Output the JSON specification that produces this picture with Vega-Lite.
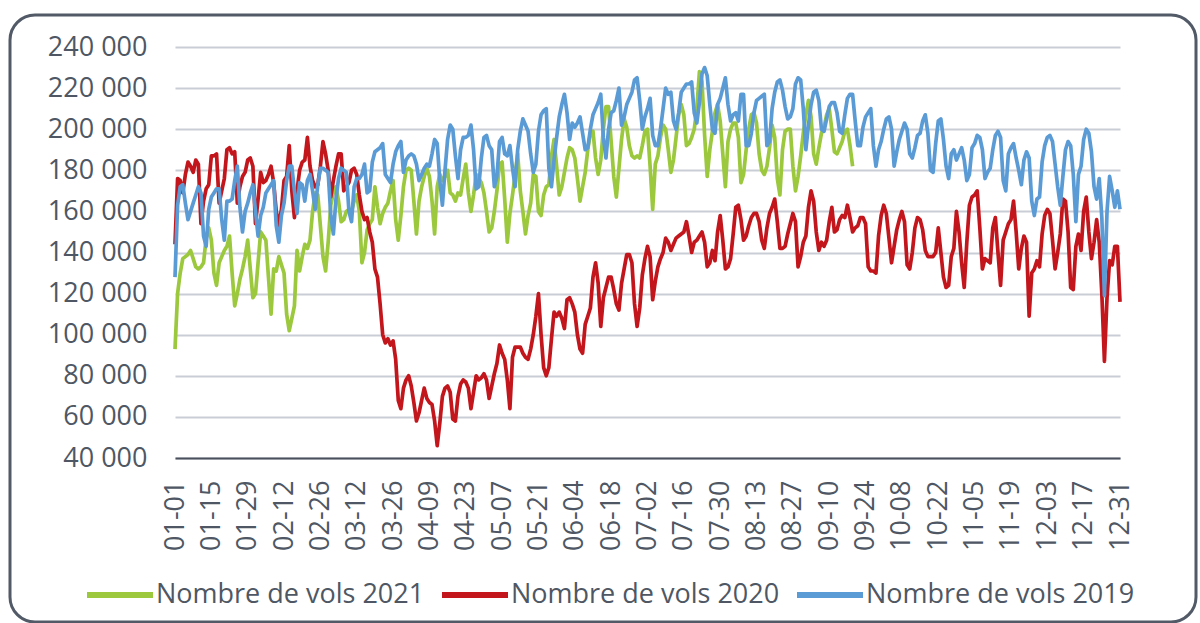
{
"$schema": "https://vega.github.io/schema/vega-lite/v6.json",
"width": 1186, "height": 607,
"autosize": {"type": "none"},
"padding": {"left": 10, "top": 15, "right": 4, "bottom": 1},
"background": "white",
"config": {"view": {"stroke": "#515a66", "strokeWidth": 3, "cornerRadius": 25}, "font": "Open Sans"},
"data": {"values": [
{"d":1,"a":93000,"b":144000,"c":128000},{"d":2,"a":120000,"b":176000,"c":163000},{"d":3,"a":130000,"b":175000,"c":172000},{"d":4,"a":137000,"b":169000,"c":173000},{"d":5,"a":138000,"b":178000,"c":164000},{"d":6,"a":139000,"b":184000,"c":156000},{"d":7,"a":141000,"b":182000,"c":160000},{"d":8,"a":137000,"b":179000,"c":164000},{"d":9,"a":133000,"b":185000,"c":168000},{"d":10,"a":132000,"b":183000,"c":172000},
{"d":11,"a":133000,"b":154000,"c":169000},{"d":12,"a":135000,"b":165000,"c":148000},{"d":13,"a":147000,"b":171000,"c":143000},{"d":14,"a":152000,"b":173000,"c":161000},{"d":15,"a":146000,"b":187000,"c":167000},{"d":16,"a":130000,"b":187000,"c":169000},{"d":17,"a":124000,"b":188000,"c":171000},{"d":18,"a":135000,"b":164000,"c":171000},{"d":19,"a":138000,"b":170000,"c":156000},{"d":20,"a":141000,"b":176000,"c":146000},
{"d":21,"a":143000,"b":190000,"c":165000},{"d":22,"a":148000,"b":191000,"c":165000},{"d":23,"a":130000,"b":188000,"c":166000},{"d":24,"a":114000,"b":189000,"c":175000},{"d":25,"a":120000,"b":164000,"c":182000},{"d":26,"a":127000,"b":172000,"c":162000},{"d":27,"a":132000,"b":177000,"c":150000},{"d":28,"a":138000,"b":179000,"c":160000},{"d":29,"a":146000,"b":185000,"c":164000},{"d":30,"a":132000,"b":186000,"c":169000},
{"d":31,"a":118000,"b":182000,"c":173000},{"d":32,"a":120000,"b":154000,"c":160000},{"d":33,"a":135000,"b":166000,"c":148000},{"d":34,"a":150000,"b":179000,"c":158000},{"d":35,"a":148000,"b":174000,"c":162000},{"d":36,"a":146000,"b":175000,"c":169000},{"d":37,"a":128000,"b":178000,"c":171000},{"d":38,"a":110000,"b":182000,"c":173000},{"d":39,"a":132000,"b":174000,"c":175000},{"d":40,"a":131000,"b":160000,"c":153000},
{"d":41,"a":138000,"b":153000,"c":145000},{"d":42,"a":134000,"b":161000,"c":158000},{"d":43,"a":130000,"b":175000,"c":164000},{"d":44,"a":110000,"b":177000,"c":175000},{"d":45,"a":102000,"b":192000,"c":182000},{"d":46,"a":108000,"b":170000,"c":182000},{"d":47,"a":114000,"b":157000,"c":170000},{"d":48,"a":141000,"b":170000,"c":159000},{"d":49,"a":131000,"b":180000,"c":174000},{"d":50,"a":138000,"b":184000,"c":173000},
{"d":51,"a":144000,"b":185000,"c":165000},{"d":52,"a":142000,"b":196000,"c":175000},{"d":53,"a":146000,"b":182000,"c":178000},{"d":54,"a":160000,"b":175000,"c":170000},{"d":55,"a":169000,"b":172000,"c":161000},{"d":56,"a":168000,"b":173000,"c":173000},{"d":57,"a":153000,"b":182000,"c":181000},{"d":58,"a":138000,"b":194000,"c":181000},{"d":59,"a":131000,"b":188000,"c":180000},{"d":60,"a":145000,"b":180000,"c":179000},
{"d":61,"a":163000,"b":167000,"c":158000},{"d":62,"a":169000,"b":175000,"c":149000},{"d":63,"a":172000,"b":182000,"c":166000},{"d":64,"a":165000,"b":188000,"c":176000},{"d":65,"a":155000,"b":188000,"c":181000},{"d":66,"a":156000,"b":170000,"c":180000},{"d":67,"a":160000,"b":172000,"c":179000},{"d":68,"a":161000,"b":174000,"c":160000},{"d":69,"a":160000,"b":180000,"c":155000},{"d":70,"a":165000,"b":181000,"c":172000},
{"d":71,"a":168000,"b":178000,"c":176000},{"d":72,"a":160000,"b":168000,"c":176000},{"d":73,"a":135000,"b":160000,"c":178000},{"d":74,"a":140000,"b":156000,"c":183000},{"d":75,"a":151000,"b":157000,"c":169000},{"d":76,"a":154000,"b":150000,"c":170000},{"d":77,"a":156000,"b":145000,"c":184000},{"d":78,"a":172000,"b":132000,"c":189000},{"d":79,"a":162000,"b":128000,"c":190000},{"d":80,"a":154000,"b":115000,"c":191000},
{"d":81,"a":159000,"b":100000,"c":193000},{"d":82,"a":162000,"b":96000,"c":178000},{"d":83,"a":164000,"b":98000,"c":176000},{"d":84,"a":170000,"b":95000,"c":174000},{"d":85,"a":175000,"b":97000,"c":183000},{"d":86,"a":156000,"b":88000,"c":189000},{"d":87,"a":146000,"b":68000,"c":192000},{"d":88,"a":158000,"b":64000,"c":194000},{"d":89,"a":172000,"b":74000,"c":179000},{"d":90,"a":180000,"b":78000,"c":185000},
{"d":91,"a":181000,"b":80000,"c":187000},{"d":92,"a":180000,"b":75000,"c":188000},{"d":93,"a":165000,"b":67000,"c":187000},{"d":94,"a":149000,"b":58000,"c":183000},{"d":95,"a":165000,"b":62000,"c":175000},{"d":96,"a":172000,"b":68000,"c":178000},{"d":97,"a":177000,"b":74000,"c":181000},{"d":98,"a":181000,"b":69000,"c":183000},{"d":99,"a":177000,"b":67000,"c":182000},{"d":100,"a":165000,"b":66000,"c":188000},
{"d":101,"a":149000,"b":58000,"c":195000},{"d":102,"a":172000,"b":46000,"c":193000},{"d":103,"a":178000,"b":57000,"c":175000},{"d":104,"a":175000,"b":70000,"c":163000},{"d":105,"a":177000,"b":74000,"c":180000},{"d":106,"a":180000,"b":75000,"c":195000},{"d":107,"a":169000,"b":72000,"c":202000},{"d":108,"a":168000,"b":59000,"c":200000},{"d":109,"a":165000,"b":58000,"c":187000},{"d":110,"a":169000,"b":70000,"c":176000},
{"d":111,"a":168000,"b":76000,"c":190000},{"d":112,"a":176000,"b":78000,"c":196000},{"d":113,"a":183000,"b":77000,"c":196000},{"d":114,"a":169000,"b":74000,"c":197000},{"d":115,"a":160000,"b":64000,"c":202000},{"d":116,"a":168000,"b":72000,"c":190000},{"d":117,"a":178000,"b":80000,"c":171000},{"d":118,"a":176000,"b":78000,"c":172000},{"d":119,"a":174000,"b":79000,"c":186000},{"d":120,"a":169000,"b":81000,"c":196000},
{"d":121,"a":160000,"b":78000,"c":197000},{"d":122,"a":150000,"b":69000,"c":192000},{"d":123,"a":152000,"b":75000,"c":190000},{"d":124,"a":160000,"b":81000,"c":172000},{"d":125,"a":170000,"b":86000,"c":177000},{"d":126,"a":183000,"b":95000,"c":194000},{"d":127,"a":184000,"b":91000,"c":196000},{"d":128,"a":166000,"b":88000,"c":188000},{"d":129,"a":145000,"b":78000,"c":187000},{"d":130,"a":159000,"b":64000,"c":192000},
{"d":131,"a":168000,"b":89000,"c":181000},{"d":132,"a":178000,"b":94000,"c":172000},{"d":133,"a":188000,"b":94000,"c":190000},{"d":134,"a":170000,"b":94000,"c":199000},{"d":135,"a":160000,"b":91000,"c":205000},{"d":136,"a":149000,"b":89000,"c":202000},{"d":137,"a":158000,"b":88000,"c":199000},{"d":138,"a":164000,"b":93000,"c":188000},{"d":139,"a":178000,"b":100000,"c":179000},{"d":140,"a":177000,"b":109000,"c":183000},
{"d":141,"a":160000,"b":120000,"c":199000},{"d":142,"a":158000,"b":100000,"c":207000},{"d":143,"a":168000,"b":84000,"c":209000},{"d":144,"a":172000,"b":80000,"c":210000},{"d":145,"a":173000,"b":84000,"c":181000},{"d":146,"a":187000,"b":98000,"c":172000},{"d":147,"a":195000,"b":111000,"c":185000},{"d":148,"a":182000,"b":109000,"c":196000},{"d":149,"a":168000,"b":111000,"c":206000},{"d":150,"a":172000,"b":108000,"c":212000},
{"d":151,"a":179000,"b":103000,"c":217000},{"d":152,"a":186000,"b":117000,"c":208000},{"d":153,"a":191000,"b":118000,"c":195000},{"d":154,"a":190000,"b":115000,"c":203000},{"d":155,"a":186000,"b":111000,"c":201000},{"d":156,"a":176000,"b":100000,"c":203000},{"d":157,"a":165000,"b":93000,"c":206000},{"d":158,"a":172000,"b":91000,"c":198000},{"d":159,"a":179000,"b":105000,"c":190000},{"d":160,"a":190000,"b":109000,"c":191000},
{"d":161,"a":198000,"b":113000,"c":200000},{"d":162,"a":199000,"b":128000,"c":207000},{"d":163,"a":186000,"b":135000,"c":210000},{"d":164,"a":178000,"b":125000,"c":213000},{"d":165,"a":185000,"b":104000,"c":217000},{"d":166,"a":200000,"b":118000,"c":196000},{"d":167,"a":211000,"b":123000,"c":186000},{"d":168,"a":211000,"b":128000,"c":200000},{"d":169,"a":194000,"b":128000,"c":208000},{"d":170,"a":177000,"b":122000,"c":209000},
{"d":171,"a":167000,"b":115000,"c":214000},{"d":172,"a":181000,"b":112000,"c":220000},{"d":173,"a":195000,"b":125000,"c":202000},{"d":174,"a":205000,"b":132000,"c":206000},{"d":175,"a":201000,"b":139000,"c":212000},{"d":176,"a":192000,"b":139000,"c":215000},{"d":177,"a":187000,"b":135000,"c":218000},{"d":178,"a":186000,"b":115000,"c":224000},{"d":179,"a":187000,"b":104000,"c":225000},{"d":180,"a":186000,"b":113000,"c":214000},
{"d":181,"a":192000,"b":129000,"c":200000},{"d":182,"a":199000,"b":137000,"c":206000},{"d":183,"a":200000,"b":143000,"c":210000},{"d":184,"a":182000,"b":138000,"c":215000},{"d":185,"a":161000,"b":117000,"c":197000},{"d":186,"a":183000,"b":126000,"c":192000},{"d":187,"a":187000,"b":133000,"c":192000},{"d":188,"a":196000,"b":137000,"c":200000},{"d":189,"a":202000,"b":140000,"c":210000},{"d":190,"a":200000,"b":147000,"c":220000},
{"d":191,"a":190000,"b":145000,"c":217000},{"d":192,"a":179000,"b":141000,"c":218000},{"d":193,"a":185000,"b":144000,"c":204000},{"d":194,"a":196000,"b":147000,"c":200000},{"d":195,"a":207000,"b":148000,"c":208000},{"d":196,"a":212000,"b":149000,"c":218000},{"d":197,"a":207000,"b":150000,"c":220000},{"d":198,"a":192000,"b":155000,"c":222000},{"d":199,"a":193000,"b":148000,"c":222000},{"d":200,"a":196000,"b":140000,"c":223000},
{"d":201,"a":200000,"b":145000,"c":208000},{"d":202,"a":210000,"b":146000,"c":203000},{"d":203,"a":228000,"b":148000,"c":213000},{"d":204,"a":223000,"b":150000,"c":227000},{"d":205,"a":197000,"b":145000,"c":230000},{"d":206,"a":177000,"b":133000,"c":226000},{"d":207,"a":190000,"b":135000,"c":212000},{"d":208,"a":199000,"b":141000,"c":200000},{"d":209,"a":208000,"b":136000,"c":198000},{"d":210,"a":212000,"b":150000,"c":212000},
{"d":211,"a":204000,"b":158000,"c":215000},{"d":212,"a":188000,"b":146000,"c":220000},{"d":213,"a":172000,"b":132000,"c":225000},{"d":214,"a":194000,"b":133000,"c":212000},{"d":215,"a":200000,"b":137000,"c":204000},{"d":216,"a":203000,"b":149000,"c":207000},{"d":217,"a":203000,"b":162000,"c":208000},{"d":218,"a":196000,"b":163000,"c":204000},{"d":219,"a":174000,"b":156000,"c":217000},{"d":220,"a":178000,"b":146000,"c":217000},
{"d":221,"a":190000,"b":148000,"c":192000},{"d":222,"a":200000,"b":153000,"c":192000},{"d":223,"a":207000,"b":157000,"c":198000},{"d":224,"a":208000,"b":159000,"c":208000},{"d":225,"a":203000,"b":159000,"c":214000},{"d":226,"a":188000,"b":155000,"c":215000},{"d":227,"a":180000,"b":146000,"c":216000},{"d":228,"a":178000,"b":142000,"c":217000},{"d":229,"a":182000,"b":152000,"c":192000},{"d":230,"a":191000,"b":159000,"c":194000},
{"d":231,"a":202000,"b":162000,"c":210000},{"d":232,"a":196000,"b":166000,"c":218000},{"d":233,"a":176000,"b":155000,"c":223000},{"d":234,"a":168000,"b":142000,"c":224000},{"d":235,"a":190000,"b":142000,"c":219000},{"d":236,"a":199000,"b":143000,"c":211000},{"d":237,"a":200000,"b":149000,"c":205000},{"d":238,"a":200000,"b":154000,"c":206000},{"d":239,"a":182000,"b":159000,"c":210000},{"d":240,"a":170000,"b":155000,"c":222000},
{"d":241,"a":177000,"b":133000,"c":225000},{"d":242,"a":187000,"b":138000,"c":224000},{"d":243,"a":198000,"b":145000,"c":210000},{"d":244,"a":207000,"b":148000,"c":190000},{"d":245,"a":214000,"b":162000,"c":202000},{"d":246,"a":206000,"b":170000,"c":212000},{"d":247,"a":188000,"b":165000,"c":218000},{"d":248,"a":183000,"b":150000,"c":219000},{"d":249,"a":191000,"b":141000,"c":214000},{"d":250,"a":198000,"b":145000,"c":200000},
{"d":251,"a":201000,"b":143000,"c":199000},{"d":252,"a":207000,"b":146000,"c":205000},{"d":253,"a":210000,"b":155000,"c":211000},{"d":254,"a":200000,"b":162000,"c":213000},{"d":255,"a":189000,"b":150000,"c":213000},{"d":256,"a":188000,"b":151000,"c":208000},{"d":257,"a":191000,"b":156000,"c":199000},{"d":258,"a":194000,"b":158000,"c":198000},{"d":259,"a":199000,"b":157000,"c":207000},{"d":260,"a":200000,"b":163000,"c":215000},
{"d":261,"a":192000,"b":157000,"c":217000},{"d":262,"a":182000,"b":150000,"c":217000},{"d":263,"b":152000,"c":204000},{"d":264,"b":153000,"c":192000},{"d":265,"b":157000,"c":192000},{"d":266,"b":157000,"c":201000},{"d":267,"b":154000,"c":206000},{"d":268,"b":133000,"c":208000},{"d":269,"b":131000,"c":210000},{"d":270,"b":131000,"c":192000},
{"d":271,"b":130000,"c":182000},{"d":272,"b":148000,"c":190000},{"d":273,"b":158000,"c":194000},{"d":274,"b":163000,"c":200000},{"d":275,"b":159000,"c":205000},{"d":276,"b":147000,"c":206000},{"d":277,"b":135000,"c":200000},{"d":278,"b":143000,"c":182000},{"d":279,"b":151000,"c":189000},{"d":280,"b":156000,"c":195000},
{"d":281,"b":160000,"c":199000},{"d":282,"b":155000,"c":203000},{"d":283,"b":134000,"c":200000},{"d":284,"b":132000,"c":188000},{"d":285,"b":140000,"c":186000},{"d":286,"b":152000,"c":191000},{"d":287,"b":157000,"c":197000},{"d":288,"b":156000,"c":198000},{"d":289,"b":151000,"c":204000},{"d":290,"b":141000,"c":207000},
{"d":291,"b":138000,"c":198000},{"d":292,"b":138000,"c":180000},{"d":293,"b":138000,"c":179000},{"d":294,"b":140000,"c":193000},{"d":295,"b":152000,"c":204000},{"d":296,"b":140000,"c":205000},{"d":297,"b":128000,"c":195000},{"d":298,"b":123000,"c":182000},{"d":299,"b":124000,"c":176000},{"d":300,"b":138000,"c":188000},
{"d":301,"b":142000,"c":190000},{"d":302,"b":160000,"c":185000},{"d":303,"b":150000,"c":188000},{"d":304,"b":135000,"c":191000},{"d":305,"b":123000,"c":185000},{"d":306,"b":145000,"c":175000},{"d":307,"b":163000,"c":178000},{"d":308,"b":167000,"c":191000},{"d":309,"b":168000,"c":193000},{"d":310,"b":170000,"c":197000},
{"d":311,"b":152000,"c":196000},{"d":312,"b":132000,"c":190000},{"d":313,"b":137000,"c":176000},{"d":314,"b":136000,"c":179000},{"d":315,"b":135000,"c":181000},{"d":316,"b":152000,"c":190000},{"d":317,"b":157000,"c":197000},{"d":318,"b":140000,"c":199000},{"d":319,"b":124000,"c":196000},{"d":320,"b":146000,"c":175000},
{"d":321,"b":150000,"c":170000},{"d":322,"b":154000,"c":188000},{"d":323,"b":156000,"c":191000},{"d":324,"b":165000,"c":193000},{"d":325,"b":150000,"c":186000},{"d":326,"b":132000,"c":180000},{"d":327,"b":142000,"c":173000},{"d":328,"b":148000,"c":185000},{"d":329,"b":145000,"c":189000},{"d":330,"b":109000,"c":186000},
{"d":331,"b":130000,"c":165000},{"d":332,"b":132000,"c":158000},{"d":333,"b":136000,"c":166000},{"d":334,"b":133000,"c":167000},{"d":335,"b":149000,"c":184000},{"d":336,"b":158000,"c":192000},{"d":337,"b":161000,"c":196000},{"d":338,"b":159000,"c":197000},{"d":339,"b":146000,"c":194000},{"d":340,"b":132000,"c":183000},
{"d":341,"b":140000,"c":172000},{"d":342,"b":149000,"c":163000},{"d":343,"b":166000,"c":177000},{"d":344,"b":165000,"c":190000},{"d":345,"b":150000,"c":194000},{"d":346,"b":123000,"c":192000},{"d":347,"b":122000,"c":178000},{"d":348,"b":143000,"c":155000},{"d":349,"b":149000,"c":178000},{"d":350,"b":141000,"c":182000},
{"d":351,"b":160000,"c":195000},{"d":352,"b":167000,"c":200000},{"d":353,"b":150000,"c":198000},{"d":354,"b":137000,"c":189000},{"d":355,"b":145000,"c":172000},{"d":356,"b":156000,"c":166000},{"d":357,"b":145000,"c":176000},{"d":358,"b":120000,"c":157000},{"d":359,"b":87000,"c":119000},{"d":360,"b":118000,"c":160000},
{"d":361,"b":136000,"c":177000},{"d":362,"b":134000,"c":170000},{"d":363,"b":143000,"c":162000},{"d":364,"b":143000,"c":170000},{"d":365,"b":116000,"c":161000}
]},
"transform": [
{"fold": ["a", "b", "c"], "as": ["serie", "v"]},
{"filter": "isValid(datum.v)"}
],
"mark": {"type": "line", "strokeWidth": 3.7, "strokeJoin": "round"},
"encoding": {
"x": {"field": "d", "type": "quantitative",
 "scale": {"domain": [1, 365], "range": [165, 1110], "nice": false, "zero": false},
 "axis": {"title": null, "values": [1,15,29,43,57,71,85,99,113,127,141,155,169,183,197,211,225,239,253,267,281,295,309,323,337,351,365],
  "labelExpr": "timeFormat(datetime(2021, 0, datum.value), '%m-%d')",
  "labelAngle": 270, "labelFontSize": 27, "labelColor": "#4e5763", "labelPadding": 22,
  "labelOverlap": false, "labelBound": false, "labelFlush": false,
  "ticks": false, "grid": false, "domainColor": "#4a515c", "domainWidth": 2, "offset": -164}},
"y": {"field": "v", "type": "quantitative",
 "scale": {"domain": [40000, 240000], "range": [443, 32], "nice": false, "zero": false},
 "axis": {"title": null, "values": [40000,60000,80000,100000,120000,140000,160000,180000,200000,220000,240000],
  "labelExpr": "replace(format(datum.value, ','), ',', ' ')",
  "labelFontSize": 27, "labelColor": "#4e5763", "labelPadding": 27,
  "ticks": false, "domain": false, "gridColor": "#c9cdd6", "gridWidth": 2, "offset": -164}},
"color": {"field": "serie", "type": "nominal",
 "scale": {"domain": ["a", "b", "c"], "range": ["#9bc83c", "#c2161c", "#5b9bd5"]},
 "legend": {"title": null, "orient": "none", "direction": "horizontal", "legendX": 74, "legendY": 544,
  "symbolType": "stroke", "symbolSize": 4356, "symbolStrokeWidth": 6,
  "labelFontSize": 27, "labelColor": "#4e5763", "labelOffset": 0, "labelLimit": 500, "columnPadding": 5,
  "labelExpr": "datum.label == 'a' ? 'Nombre de vols 2021' : datum.label == 'b' ? 'Nombre de vols 2020' : 'Nombre de vols 2019'"}}
}
}
